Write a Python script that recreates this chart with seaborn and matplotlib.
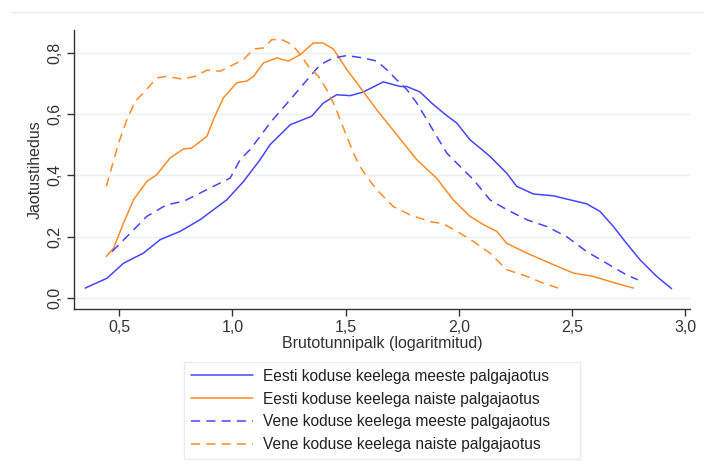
import matplotlib
matplotlib.use("Agg")
import matplotlib.pyplot as plt
from matplotlib.lines import Line2D
from matplotlib.ticker import FuncFormatter
import seaborn as sns
import pandas as pd

# andmed loetud jooniselt (x = log brutotunnipalk, y = tihedus)
est_m_x = [0.35, 0.446, 0.519, 0.607, 0.681, 0.769, 0.857, 0.975, 1.049, 1.122, 1.166, 1.255,
           1.35, 1.40, 1.46, 1.52, 1.578, 1.666, 1.74, 1.77, 1.828, 1.887, 1.946, 1.99, 2.049,
           2.137, 2.211, 2.255, 2.329, 2.417, 2.49, 2.564, 2.623, 2.682, 2.74, 2.80, 2.873, 2.939]
est_m_y = [0.032, 0.064, 0.113, 0.146, 0.19, 0.217, 0.255, 0.32, 0.38, 0.451, 0.50, 0.565,
           0.593, 0.635, 0.663, 0.66, 0.672, 0.705, 0.69, 0.69, 0.672, 0.631, 0.595, 0.571, 0.516,
           0.462, 0.407, 0.364, 0.339, 0.333, 0.32, 0.307, 0.282, 0.233, 0.178, 0.124, 0.07, 0.03]

est_f_x = [0.443, 0.475, 0.519, 0.563, 0.622, 0.666, 0.725, 0.784, 0.82, 0.887, 0.916, 0.96,
           1.019, 1.064, 1.093, 1.137, 1.196, 1.247, 1.30, 1.357, 1.40, 1.446, 1.505, 1.549,
           1.593, 1.637, 1.696, 1.755, 1.814, 1.902, 1.975, 2.049, 2.108, 2.167, 2.211, 2.30,
           2.402, 2.505, 2.593, 2.682, 2.77]
est_f_y = [0.135, 0.162, 0.244, 0.32, 0.38, 0.402, 0.457, 0.486, 0.489, 0.527, 0.582, 0.653,
           0.702, 0.708, 0.723, 0.767, 0.783, 0.773, 0.794, 0.832, 0.832, 0.812, 0.745, 0.702,
           0.658, 0.614, 0.56, 0.505, 0.451, 0.39, 0.32, 0.266, 0.239, 0.217, 0.178, 0.146,
           0.113, 0.081, 0.07, 0.05, 0.032]

ven_m_x = [0.468, 0.549, 0.622, 0.71, 0.784, 0.857, 0.946, 0.99, 1.034, 1.078, 1.122, 1.166,
           1.255, 1.343, 1.387, 1.446, 1.505, 1.578, 1.637, 1.681, 1.725, 1.77, 1.814, 1.858,
           1.902, 1.946, 1.99, 2.064, 2.137, 2.211, 2.30, 2.387, 2.475, 2.564, 2.652, 2.74, 2.79]
ven_m_y = [0.151, 0.211, 0.266, 0.304, 0.315, 0.342, 0.375, 0.391, 0.451, 0.484, 0.527, 0.571,
           0.647, 0.723, 0.761, 0.783, 0.791, 0.783, 0.773, 0.745, 0.712, 0.68, 0.636, 0.582,
           0.527, 0.473, 0.44, 0.386, 0.32, 0.288, 0.255, 0.233, 0.20, 0.151, 0.113, 0.075, 0.059]

ven_f_x = [0.443, 0.468, 0.497, 0.534, 0.571, 0.607, 0.666, 0.71, 0.777, 0.835, 0.887, 0.946,
           0.99, 1.049, 1.093, 1.137, 1.174, 1.218, 1.262, 1.30, 1.335, 1.38, 1.416, 1.453,
           1.475, 1.505, 1.534, 1.563, 1.593, 1.637, 1.71, 1.784, 1.872, 1.931, 2.005, 2.064,
           2.137, 2.211, 2.30, 2.372, 2.439]
ven_f_y = [0.364, 0.429, 0.505, 0.582, 0.642, 0.669, 0.718, 0.723, 0.714, 0.723, 0.743, 0.74,
           0.756, 0.778, 0.812, 0.816, 0.843, 0.843, 0.827, 0.794, 0.756, 0.723, 0.68, 0.625,
           0.582, 0.527, 0.473, 0.429, 0.396, 0.353, 0.298, 0.271, 0.249, 0.242, 0.211, 0.184,
           0.146, 0.092, 0.07, 0.048, 0.032]

labels = ["Eesti koduse keelega meeste palgajaotus",
          "Eesti koduse keelega naiste palgajaotus",
          "Vene koduse keelega meeste palgajaotus",
          "Vene koduse keelega naiste palgajaotus"]

x_ticks = [0.5, 1.0, 1.5, 2.0, 2.5, 3.0]
y_ticks = [0.0, 0.2, 0.4, 0.6, 0.8]

blue = "#4646ff"
orange = "#ff8c26"

frames = []
for lab, xs, ys in zip(labels, [est_m_x, est_f_x, ven_m_x, ven_f_x],
                       [est_m_y, est_f_y, ven_m_y, ven_f_y]):
    frames.append(pd.DataFrame({"x": xs, "y": ys, "series": lab}))
df = pd.concat(frames, ignore_index=True)

sns.set_theme(style="white")
plt.rcParams['font.family'] = ['Liberation Sans', 'DejaVu Sans']

fig = plt.figure(figsize=(7.04, 4.73), dpi=100)
ax = fig.add_axes([0.105, 0.347, 0.875, 0.59])

palette = {labels[0]: blue, labels[1]: orange, labels[2]: blue, labels[3]: orange}
dashes = {labels[0]: "", labels[1]: "", labels[2]: (6, 4), labels[3]: (6, 4)}
sns.lineplot(data=df, x="x", y="y", hue="series", style="series", palette=palette,
             dashes=dashes, linewidth=1.1, sort=False, estimator=None, legend=False, ax=ax)

ax.set_xlim(0.30, 3.02)
ax.set_ylim(-0.036, 0.875)
ax.set_xticks(x_ticks)
ax.set_yticks(y_ticks)
comma = FuncFormatter(lambda v, p: f"{v:.1f}".replace(".", ","))
ax.xaxis.set_major_formatter(comma)
ax.yaxis.set_major_formatter(comma)
ax.tick_params(axis="both", direction="out", length=5, width=1, color="#333333",
               labelsize=11.5, labelcolor="#333333", bottom=True, left=True, pad=3)
plt.setp(ax.get_yticklabels(), rotation=90, va="center")
ax.grid(axis="y", color="#eaf0f3", linewidth=1.0)
ax.set_axisbelow(True)
for s in ["top", "right"]:
    ax.spines[s].set_visible(False)
for s in ["left", "bottom"]:
    ax.spines[s].set_color("#333333")
    ax.spines[s].set_linewidth(1.0)

ax.set_xlabel("Brutotunnipalk (logaritmitud)", fontsize=11.5, color="#333333", labelpad=1)
ax.set_ylabel("Jaotustihedus", fontsize=11.5, color="#333333", labelpad=4)

handles = [Line2D([], [], color=blue, lw=1.1),
           Line2D([], [], color=orange, lw=1.1),
           Line2D([], [], color=blue, lw=1.1, dashes=(6, 4)),
           Line2D([], [], color=orange, lw=1.1, dashes=(6, 4))]
leg = fig.legend(handles, labels, loc="upper left", bbox_to_anchor=(0.261, 0.0, 0.563, 0.235),
                 mode="expand", borderaxespad=0, frameon=True, fancybox=False, fontsize=11.2,
                 handlelength=4.0, handletextpad=0.64, labelspacing=0.5, borderpad=0.45)
leg.get_frame().set_edgecolor("#e3e8ec")
leg.get_frame().set_linewidth(1.0)
for t in leg.get_texts():
    t.set_color("#222222")

fig.add_artist(Line2D([0.015, 1.0], [0.974, 0.974], color="#e6edf0", lw=1.0,
                      transform=fig.transFigure))

fig.savefig("out.png", dpi=100, facecolor="white")
